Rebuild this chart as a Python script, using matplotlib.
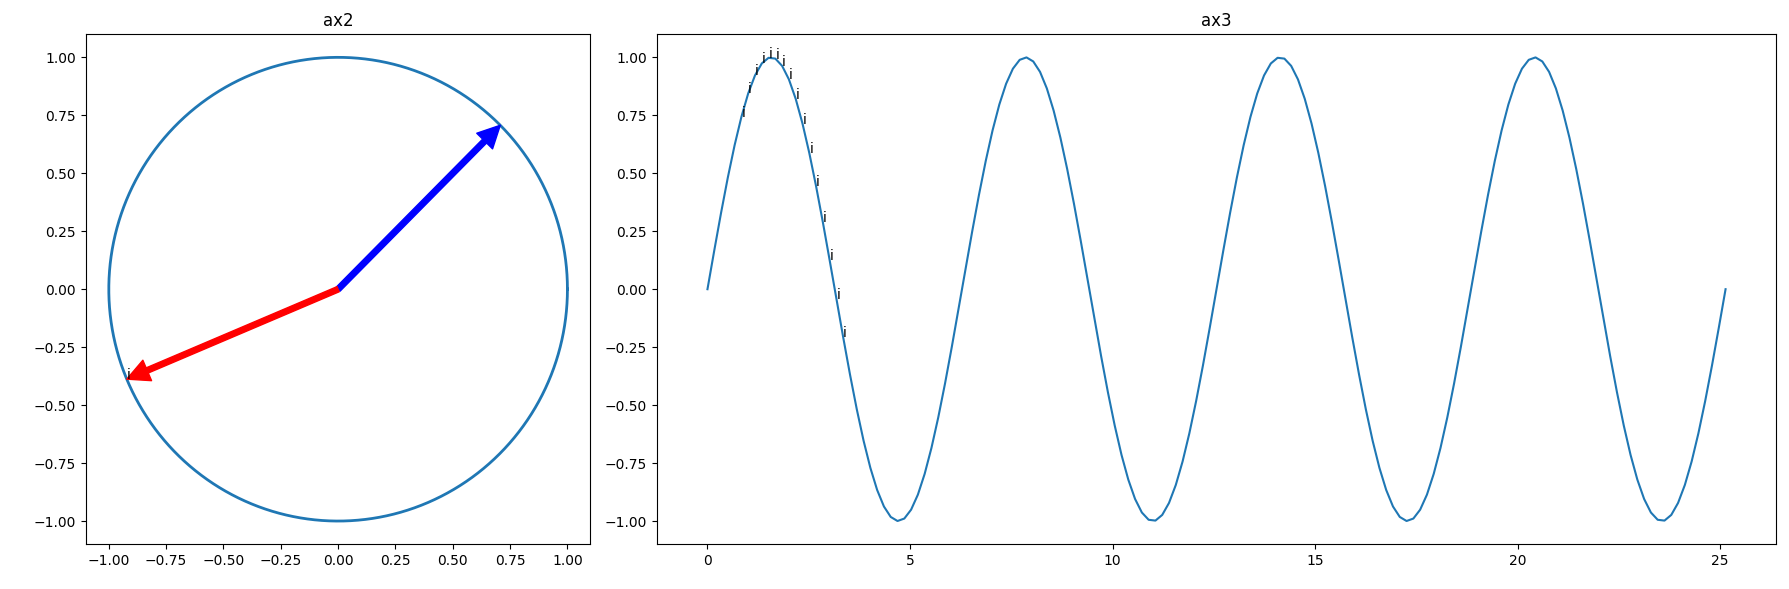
import numpy as np
from matplotlib import pyplot as plt

# sampled sine wave, 4 full periods
x = np.linspace(0, 8 * np.pi, 151)
y = np.sin(x)
label_idx = list(range(5, 21))   # points tagged with "i" so far
theta = np.linspace(0, 2 * np.pi, 200)
blue_angle = np.pi / 4
red_angle = 3.54

fig = plt.figure(figsize=(17.89, 5.89), dpi=100)
ax2 = fig.add_axes([0.048, 0.076, 0.282, 0.866])
ax3 = fig.add_axes([0.367, 0.076, 0.626, 0.866])

ax2.set_title("ax2")
ax2.plot(np.cos(theta), np.sin(theta), color='tab:blue', linewidth=2)
ax2.annotate("", xy=(np.cos(blue_angle), np.sin(blue_angle)), xytext=(0, 0),
             arrowprops=dict(color='blue', width=4, headwidth=16, headlength=16))
ax2.annotate("", xy=(np.cos(red_angle), np.sin(red_angle)), xytext=(0, 0),
             arrowprops=dict(color='red', width=4, headwidth=16, headlength=16))
ax2.text(np.cos(red_angle), np.sin(red_angle), "i")
ax2.set_xlim(-1.1, 1.1)
ax2.set_ylim(-1.1, 1.1)

ax3.set_title("ax3")
ax3.plot(x, y)
for k in label_idx:
    ax3.text(x[k], y[k], "i")
ax3.set_ylim(-1.1, 1.1)

plt.savefig("out.png")
